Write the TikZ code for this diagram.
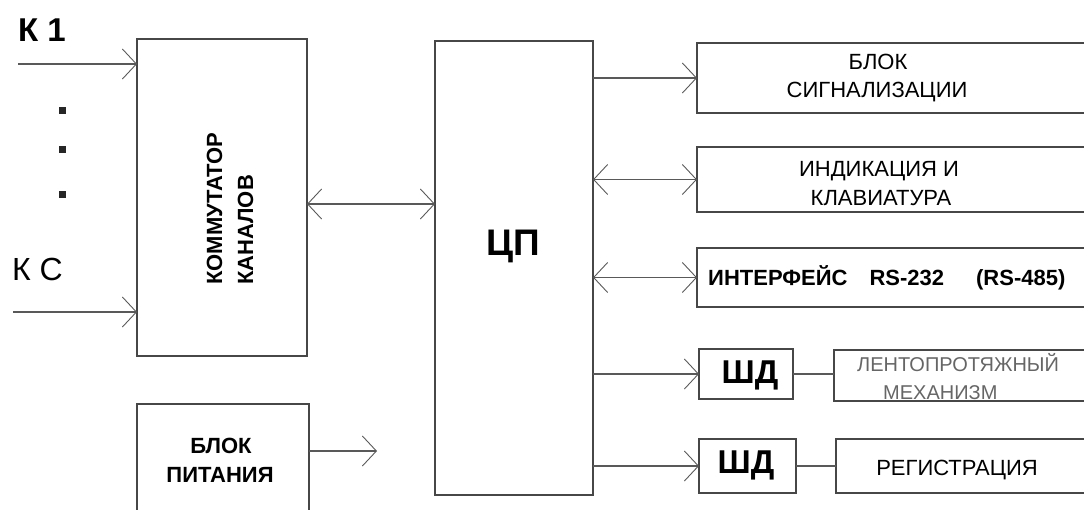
\documentclass[tikz,border=0pt]{standalone}
\usepackage{fontspec}
\setmainfont{Liberation Sans}
\usetikzlibrary{arrows.meta}
\begin{document}
\begin{tikzpicture}[x=1pt,y=-1pt,
  box/.style={draw=black!72, line width=1.4pt, inner sep=0pt, outer sep=0pt, anchor=north west},
  conn/.style={draw=black!65, line width=1.3pt},
  >={Straight Barb[length=14pt,width=30pt,line width=0.9pt]},
  lbl/.style={inner sep=0pt, anchor=base, font=\fontsize{22}{26}\selectfont},
  blbl/.style={inner sep=0pt, anchor=base, font=\bfseries\fontsize{22}{26}\selectfont},
  sdlbl/.style={inner sep=0pt, anchor=base, font=\bfseries\fontsize{33}{40}\selectfont},
  thin/.style={inner sep=0pt, anchor=base west, text=black!60, font=\fontsize{20}{24}\selectfont}]
\useasboundingbox (0,0) rectangle (1084,509);
\clip (0,0) rectangle (1084,509);

% boxes
\node[box, minimum width=170pt, minimum height=317pt] (kom) at (137,39) {};
\node[box, minimum width=158pt, minimum height=454pt] (cpu) at (435,41) {};
\node[box, minimum width=172pt, minimum height=130pt] (pow) at (137,404) {};
\node[box, minimum width=420pt, minimum height=70pt] (sig) at (697,43) {};
\node[box, minimum width=420pt, minimum height=65pt] (ind) at (697,147) {};
\node[box, minimum width=420pt, minimum height=59pt] (int) at (697,248) {};
\node[box, minimum width=94pt, minimum height=50pt] (sd1) at (699,349) {};
\node[box, minimum width=300pt, minimum height=51pt] (lent) at (834,350) {};
\node[box, minimum width=97pt, minimum height=54pt] (sd2) at (699,439) {};
\node[box, minimum width=300pt, minimum height=54pt] (reg) at (836,439) {};

% inputs
\node[inner sep=0pt, anchor=base west, font=\bfseries\fontsize{33}{40}\selectfont] (k1) at (18,41) {К 1};
\node[inner sep=0pt, anchor=base west, font=\fontsize{32}{38}\selectfont] (kc) at (12,280) {К С};
\fill[black!85] (58.5,106.5) rectangle ++(7,7);
\fill[black!85] (58.5,145.5) rectangle ++(7,7);
\fill[black!85] (58.5,190.5) rectangle ++(7,7);

% labels
\node[blbl, rotate=90, anchor=base west] (kom1) at (222,285) {КОММУТАТОР};
\node[blbl, rotate=90, anchor=base west] (kom2) at (253,285) {КАНАЛОВ};
\node[inner sep=0pt, anchor=base, font=\bfseries\fontsize{37}{44}\selectfont] (cp) at (513,255) {ЦП};
\node[blbl] (pow1) at (221,453) {БЛОК};
\node[blbl] (pow2) at (220,482) {ПИТАНИЯ};
\node[lbl] (sig1) at (878,69) {БЛОК};
\node[lbl] (sig2) at (877,97) {СИГНАЛИЗАЦИИ};
\node[lbl] (ind1) at (879,176.5) {ИНДИКАЦИЯ И};
\node[lbl] (ind2) at (881,205) {КЛАВИАТУРА};
\node[blbl, anchor=base west] (int1) at (708,285) {ИНТЕРФЕЙС\hspace{22pt}RS-232\hspace{32pt}(RS-485)};
\node[sdlbl] (sdt1) at (750,383) {ШД};
\node[sdlbl] (sdt2) at (746,473) {ШД};
\node[thin] (lent1) at (857,371) {ЛЕНТОПРОТЯЖНЫЙ};
\node[thin] (lent2) at (883,399) {МЕХАНИЗМ};
\node[lbl] (reg1) at (957,475) {РЕГИСТРАЦИЯ};

% connectors
\coordinate (k1s) at (18,64);
\draw[conn,->] (k1s) -- (kom.west |- k1s);
\coordinate (kcs) at (13,312);
\draw[conn,->] (kcs) -- (kom.west |- kcs);
\coordinate (bus) at (370,204);
\draw[conn,<->] (kom.east |- bus) -- (cpu.west |- bus);
\draw[conn,->] (cpu.east |- sig.west) -- (sig.west);
\draw[conn,<->] (cpu.east |- ind.west) -- (ind.west);
\draw[conn,<->] (cpu.east |- int.west) -- (int.west);
\draw[conn,->] (cpu.east |- sd1.west) -- (sd1.west);
\draw[conn,->] (cpu.east |- sd2.west) -- (sd2.west);
\draw[conn] (sd1.east) -- (lent.west |- sd1.east);
\draw[conn] (sd2.east) -- (reg.west |- sd2.east);
\coordinate (pwe) at (377,451);
\draw[conn,->] (pow.east |- pwe) -- (pwe);
\end{tikzpicture}
\end{document}
